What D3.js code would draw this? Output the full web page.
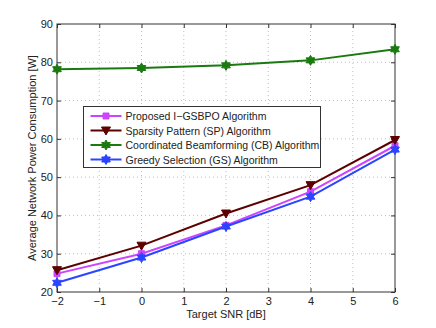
<!DOCTYPE html>
<html>
<head>
<meta charset="utf-8">
<script src="https://cdn.jsdelivr.net/npm/d3@7"></script>
<style>
  body { margin: 0; background: #fff; }
  svg { display: block; font-family: "Liberation Sans", Arial, sans-serif; }
</style>
</head>
<body>
<svg></svg>
<script>
let width = 436, height = 328;

// data
let snr = [-2, 0, 2, 4, 6];
let proposed = [24.8, 30.0, 37.4, 46.2, 58.2];
let sparsity = [25.7, 32.1, 40.5, 47.9, 59.7];
let coordinated = [78.2, 78.5, 79.2, 80.5, 83.4];
let greedy = [22.4, 29.0, 37.1, 44.9, 57.2];
let xTicks = [-2, -1, 0, 1, 2, 3, 4, 5, 6];
let yTicks = [20, 30, 40, 50, 60, 70, 80, 90];

let series = [
  { name: "Proposed I\u2212GSBPO Algorithm", values: proposed, color: "#cc44ff", marker: "square" },
  { name: "Sparsity Pattern (SP) Algorithm", values: sparsity, color: "#5e0000", marker: "triangle" },
  { name: "Coordinated Beamforming (CB) Algorithm", values: coordinated, color: "#1a7a10", marker: "hexagram" },
  { name: "Greedy Selection (GS) Algorithm", values: greedy, color: "#2a44ff", marker: "hexagram" }
];

let svg = d3.select("svg")
    .attr("width", width)
    .attr("height", height)
    .attr("viewBox", "0 0 " + width + " " + height);

let margin = { left: 57, right: 41, top: 24, bottom: 36 };
let x = d3.scaleLinear().domain([-2, 6]).range([margin.left, width - margin.right]);
let y = d3.scaleLinear().domain([20, 90]).range([height - margin.bottom, margin.top]);

// grid
let grid = svg.append("g").attr("stroke", "#b0b0b0").attr("stroke-width", 0.8)
    .attr("stroke-dasharray", "1,3");
grid.selectAll(".gx").data(xTicks.slice(1, -1)).enter().append("line")
    .attr("x1", d => x(d)).attr("x2", d => x(d))
    .attr("y1", y(20)).attr("y2", y(90));
grid.selectAll(".gy").data(yTicks.slice(1, -1)).enter().append("line")
    .attr("y1", d => y(d)).attr("y2", d => y(d))
    .attr("x1", x(-2)).attr("x2", x(6));

// axes (matlab style: ticks inside on all four sides)
let tl = 4;
svg.append("g").attr("transform", "translate(0," + y(20) + ")")
    .call(d3.axisBottom(x).tickValues(xTicks).tickSizeInner(-tl).tickSizeOuter(0).tickPadding(5)
      .tickFormat(d => d < 0 ? "\u2212" + Math.abs(d) : d));
svg.append("g").attr("transform", "translate(0," + y(90) + ")")
    .call(d3.axisTop(x).tickValues(xTicks).tickSizeInner(-tl).tickSizeOuter(0).tickFormat(""));
svg.append("g").attr("transform", "translate(" + x(-2) + ",0)")
    .call(d3.axisLeft(y).tickValues(yTicks).tickSizeInner(-tl).tickSizeOuter(0).tickPadding(4));
svg.append("g").attr("transform", "translate(" + x(6) + ",0)")
    .call(d3.axisRight(y).tickValues(yTicks).tickSizeInner(-tl).tickSizeOuter(0).tickFormat(""));

svg.selectAll(".domain").remove();
svg.selectAll(".tick line").attr("stroke", "#333");
svg.selectAll(".tick text").attr("font-size", 11).attr("fill", "#222")
    .attr("font-family", "Liberation Sans, Arial, sans-serif");

svg.append("rect")
    .attr("x", x(-2)).attr("y", y(90))
    .attr("width", x(6) - x(-2)).attr("height", y(20) - y(90))
    .attr("fill", "none").attr("stroke", "#333").attr("stroke-width", 1);

// labels
svg.append("text")
    .attr("x", (x(-2) + x(6)) / 2).attr("y", 318)
    .attr("text-anchor", "middle").attr("font-size", 11).attr("fill", "#222")
    .text("Target SNR [dB]");
svg.append("text")
    .attr("transform", "translate(36," + (y(20) + y(90)) / 2 + ") rotate(-90)")
    .attr("text-anchor", "middle").attr("font-size", 11).attr("fill", "#222")
    .text("Average Network Power Consumption [W]");

// markers
function hexagram(r) {
  let p = [];
  for (let i = 0; i < 12; i++) {
    let a = Math.PI / 6 * i - Math.PI / 2;
    let rr = i % 2 == 0 ? r : r * 0.58;
    p.push([rr * Math.cos(a), rr * Math.sin(a)]);
  }
  return "M" + p.map(q => q.join(",")).join("L") + "Z";
}
function markerPath(type) {
  if (type == "square") return "M-3,-3L3,-3L3,3L-3,3Z";
  if (type == "triangle") return "M-4.5,-3.5L4.5,-3.5L0,4.5Z";
  return hexagram(5);
}

let line = d3.line().x((d, i) => x(snr[i])).y(d => y(d));

series.forEach(s => {
  svg.append("path")
      .datum(s.values)
      .attr("fill", "none")
      .attr("stroke", s.color)
      .attr("stroke-width", 2)
      .attr("d", line);
  svg.selectAll(null).data(s.values).enter().append("path")
      .attr("transform", (d, i) => "translate(" + x(snr[i]) + "," + y(d) + ")")
      .attr("d", markerPath(s.marker))
      .attr("fill", s.color)
      .attr("stroke", s.color)
      .attr("stroke-width", 1);
});

// legend
let lg = svg.append("g").attr("transform", "translate(83.5,106.5)");
lg.append("rect").attr("width", 237).attr("height", 61)
    .attr("fill", "#fff").attr("stroke", "#333").attr("stroke-width", 1);
series.forEach((s, i) => {
  let yy = 9.5 + i * 14.5;
  lg.append("line").attr("x1", 7).attr("x2", 38).attr("y1", yy).attr("y2", yy)
      .attr("stroke", s.color).attr("stroke-width", 2);
  lg.append("path").attr("transform", "translate(22.5," + yy + ")")
      .attr("d", markerPath(s.marker)).attr("fill", s.color).attr("stroke", s.color);
  lg.append("text").attr("x", 42).attr("y", yy + 4)
      .attr("font-size", 10.5).attr("fill", "#222").text(s.name);
});
</script>
</body>
</html>
